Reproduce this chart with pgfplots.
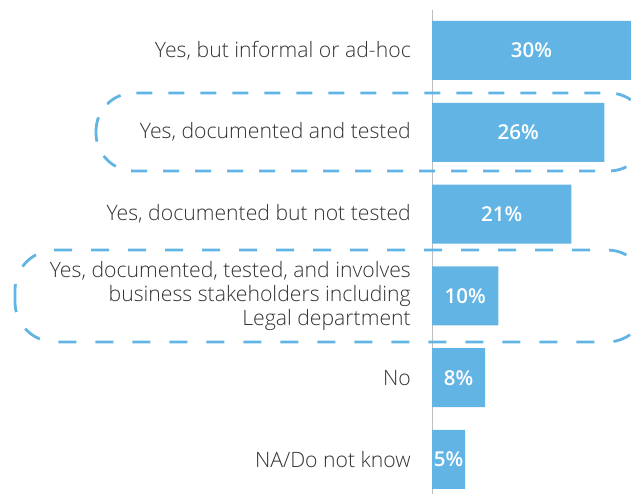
\documentclass[border=0pt]{standalone}
\usepackage{pgfplots}
\pgfplotsset{compat=1.18}
\usepackage{fontspec}
\setmainfont{Open Sans}
\newfontfamily\lightfont{Open Sans Light}
\newfontfamily\numfont{Open Sans Semibold}
\definecolor{barblue}{RGB}{98,180,228}
\definecolor{labelgray}{RGB}{51,51,51}
\definecolor{axisgray}{RGB}{190,190,190}

\begin{document}
\begin{tikzpicture}[x=1pt,y=1pt]
\useasboundingbox (0,0) rectangle (631,494);
\clip (0,0) rectangle (631,494);
\begin{axis}[
  at={(432pt,0pt)}, anchor=south west,
  scale only axis, width=199pt, height=484pt,
  xmin=0, xmax=30, ymin=-0.495, ymax=5.422, y dir=reverse,
  axis x line=none, axis y line=left,
  y axis line style={axisgray, line width=1pt, -},
  ytick={0,...,5}, major tick length=0pt,
  yticklabels={
    {Yes, but informal or ad-hoc},
    {Yes, documented and tested},
    {Yes, documented but not tested},
    {Yes, documented, tested, and involves\\business stakeholders including\\Legal department},
    {No},
    {NA/Do not know}},
  yticklabel style={font=\lightfont\fontsize{21.2}{24.2}\selectfont, text=labelgray,
    align=right, inner xsep=0pt, xshift=-21pt},
  clip=false,
]
\addplot[xbar, bar width=59pt, fill=barblue, draw=none]
  coordinates {(30,0) (26,1) (21,2) (10,3) (8,4) (5,5)};
\addplot[draw=none, mark=none, point meta=explicit symbolic,
  nodes near coords,
  every node near coord/.style={anchor=center, text=white,
    font=\numfont\fontsize{20.5}{24}\selectfont}]
  coordinates {(15,0)[30\%] (13,1)[26\%] (10.5,2)[21\%] (5,3)[10\%] (4,4)[8\%] (2.5,5)[5\%]};
\end{axis}
\draw[barblue, line width=2.8pt, dash pattern=on 16pt off 16pt, rounded corners=38pt]
  (96,323) rectangle (647,401);
\draw[barblue, line width=2.8pt, dash pattern=on 18pt off 19pt, rounded corners=40pt]
  (15,152) rectangle (647,244);
\end{tikzpicture}
\end{document}
